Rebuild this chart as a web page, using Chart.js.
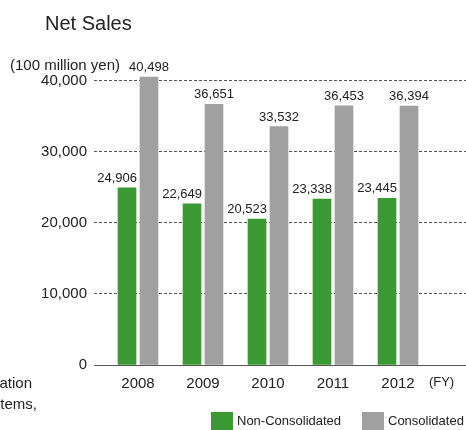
<!DOCTYPE html>
<html>
<head>
<meta charset="utf-8">
<title>Net Sales</title>
<script src="https://cdn.jsdelivr.net/npm/chart.js@4.4.1/dist/chart.umd.min.js"></script>
<style>
  html, body { margin: 0; padding: 0; background: #fff; overflow: hidden; }
  #wrap { position: relative; width: 466px; height: 430px; }
</style>
</head>
<body>
<div id="wrap"><canvas id="chart" width="466" height="430"></canvas></div>
<script>
// Fiscal years and net sales (100 million yen)
const years = [2008, 2009, 2010, 2011, 2012];
const nonConsolidated = [24906, 22649, 20523, 23338, 23445];
const consolidated = [40498, 36651, 33532, 36453, 36394];
const yTicks = [0, 10000, 20000, 30000, 40000];
const seriesNames = ['Non-Consolidated', 'Consolidated'];
const titleText = 'Net Sales';
const unitText = '(100 million yen)';
const fyText = '(FY)';
const sideText = ['ation', 'tems,'];

const GREEN = '#3b9a33';
const GREY = '#a0a0a0';
const INK = '#222';
const FONT = '"Liberation Sans", Arial, Helvetica, sans-serif';
const FY_POS = 2012.67;

const fmt = v => v.toLocaleString('en-US');

// Value labels, heading, unit, legend and the side text
const annotate = {
  id: 'annotate',
  afterDatasetsDraw(chart) {
    const ctx = chart.ctx;
    ctx.save();
    ctx.fillStyle = INK;
    ctx.font = '13px ' + FONT;
    ctx.textBaseline = 'alphabetic';
    chart.data.datasets.forEach((ds, di) => {
      chart.getDatasetMeta(di).data.forEach((bar, i) => {
        const txt = fmt(ds.data[i]);
        if (di === 0) {
          ctx.textAlign = 'right';
          ctx.fillText(txt, bar.x + bar.width / 2 + 1, bar.y - 6);
        } else {
          ctx.textAlign = 'center';
          ctx.fillText(txt, bar.x, bar.y - 6);
        }
      });
    });
    ctx.restore();
  },
  afterDraw(chart) {
    const ctx = chart.ctx;
    ctx.save();
    ctx.fillStyle = INK;
    ctx.textBaseline = 'alphabetic';
    ctx.textAlign = 'left';
    ctx.font = '20px ' + FONT;
    ctx.fillText(titleText, 45, 30);
    ctx.font = '15px ' + FONT;
    ctx.fillText(unitText, 10, 70);

    ctx.textAlign = 'right';
    ctx.font = '15px ' + FONT;
    ctx.fillText(sideText[0], 32, 388);
    ctx.fillText(sideText[1], 37, 409);

    // legend
    const items = [
      { x: 211, color: GREEN, label: seriesNames[0] },
      { x: 362, color: GREY, label: seriesNames[1] }
    ];
    ctx.textAlign = 'left';
    ctx.textBaseline = 'middle';
    ctx.font = '13px ' + FONT;
    items.forEach(it => {
      ctx.fillStyle = it.color;
      ctx.fillRect(it.x, 412, 22, 18);
      ctx.fillStyle = INK;
      ctx.fillText(it.label, it.x + 26, 421);
    });
    ctx.restore();
  }
};

new Chart(document.getElementById('chart'), {
  type: 'bar',
  data: {
    labels: years,
    datasets: [
      { label: seriesNames[0], data: nonConsolidated, backgroundColor: GREEN },
      { label: seriesNames[1], data: consolidated, backgroundColor: GREY }
    ]
  },
  options: {
    responsive: false,
    animation: false,
    events: [],
    barThickness: 22,
    maxBarThickness: 18,
    layout: { padding: { left: 0, right: 0, top: 45, bottom: 0 } },
    plugins: { legend: { display: false }, tooltip: { enabled: false } },
    scales: {
      x: {
        type: 'linear',
        offset: false,
        min: 2007.3231,
        max: 2013.0462,
        afterFit(scale) { scale.height = 65; },
        afterBuildTicks(scale) {
          scale.ticks = years.concat([FY_POS]).map(v => ({ value: v }));
        },
        grid: { display: false, drawTicks: false },
        border: { display: true, color: '#555', width: 1 },
        ticks: {
          autoSkip: false,
          maxRotation: 0,
          padding: 10,
          color: INK,
          font: c => ({ family: FONT, size: (c.tick && c.tick.value === FY_POS) ? 13 : 15 }),
          callback: v => (v === FY_POS ? fyText : String(v))
        }
      },
      y: {
        min: 0,
        max: 45000,
        afterFit(scale) { scale.width = 94; },
        afterBuildTicks(scale) {
          scale.ticks = yTicks.map(v => ({ value: v }));
        },
        grid: {
          drawTicks: false,
          color: c => (c.tick && c.tick.value === 0 ? 'rgba(0,0,0,0)' : '#555'),
          lineWidth: 1
        },
        border: { display: false, dash: [3, 2] },
        ticks: {
          padding: 7,
          color: INK,
          font: { family: FONT, size: 15 },
          callback: v => fmt(v)
        }
      }
    }
  },
  plugins: [annotate]
});
</script>
</body>
</html>
